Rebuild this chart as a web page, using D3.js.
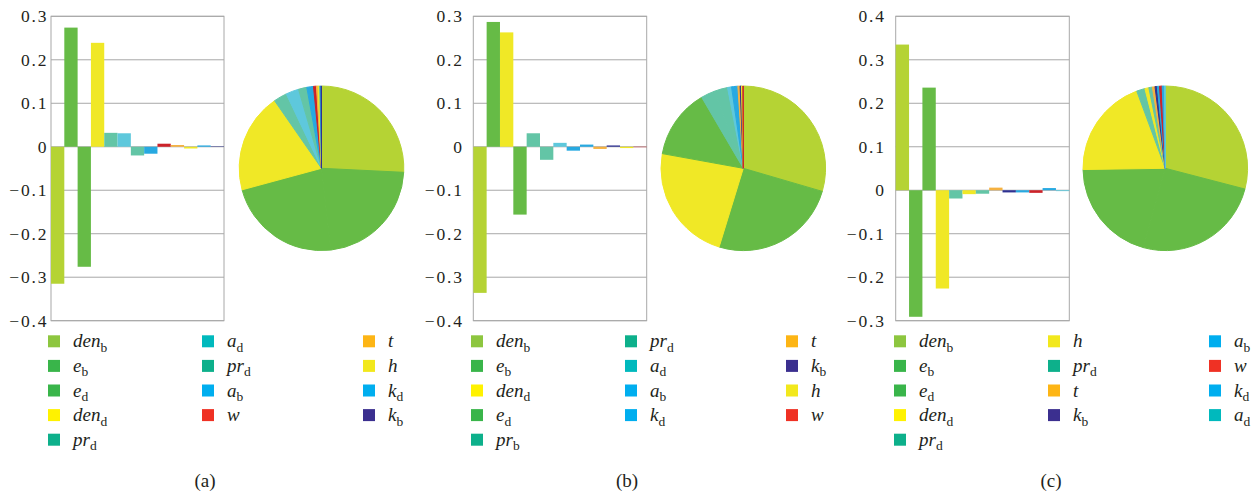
<!DOCTYPE html>
<html>
<head>
<meta charset="utf-8">
<script src="https://cdn.jsdelivr.net/npm/d3@7"></script>
<style>
  body { margin: 0; background: #fff; }
  svg { display: block; }
</style>
</head>
<body>
<svg id="chart" width="1253" height="496"></svg>
<script>
// Variable names: base letters, then the subscript after "_"
const namesA = ["den_b", "e_b", "e_d", "den_d", "pr_d", "a_d", "pr_d", "a_b", "w", "t", "h", "k_d", "k_b"];
const valuesA = [-0.315, 0.274, -0.276, 0.239, 0.032, 0.031, -0.020, -0.016, 0.007, 0.004, -0.004, 0.003, 0.001];

const namesB = ["den_b", "e_b", "den_d", "e_d", "pr_b", "pr_d", "a_d", "a_b", "k_d", "t", "k_b", "h", "w"];
const valuesB = [-0.336, 0.287, 0.263, -0.156, 0.031, -0.030, 0.009, -0.009, 0.005, -0.005, 0.003, -0.003, -0.001];

const namesC = ["den_b", "e_b", "e_d", "den_d", "pr_d", "h", "pr_d", "t", "k_b", "a_b", "w", "k_d", "a_d"];
const valuesC = [0.335, -0.291, 0.236, -0.226, -0.019, -0.009, -0.008, 0.006, -0.005, -0.005, -0.006, 0.005, -0.002];

const ticksA = [-0.4, -0.3, -0.2, -0.1, 0, 0.1, 0.2, 0.3];
const ticksB = [-0.4, -0.3, -0.2, -0.1, 0, 0.1, 0.2, 0.3];
const ticksC = [-0.3, -0.2, -0.1, 0, 0.1, 0.2, 0.3, 0.4];

const captions = ["(a)", "(b)", "(c)"];

// Legend swatch colours and the softer fills used for bars and pie slices
const swatchColors = {
  den_b: "#8dc63f", e_b: "#39b54a", e_d: "#39b54a", den_d: "#fff200", h: "#f2e81c",
  pr_d: "#0db08b", pr_b: "#0db08b", a_d: "#00b9bd", a_b: "#00aeef", k_d: "#00aeef",
  w: "#ef3124", t: "#fdb515", k_b: "#3b2f8f"
};
const markColors = {
  den_b: "#b5d334", e_b: "#66bb46", e_d: "#66bb46", den_d: "#f0e826", h: "#f0e826",
  pr_d: "#63c5a6", pr_b: "#63c5a6", a_d: "#5ec8dc", a_b: "#27a9e1", k_d: "#27a9e1",
  w: "#cc2229", t: "#f5b140", k_b: "#2e3192"
};

const panels = [
  { names: namesA, values: valuesA, ticks: ticksA, plotL: 51, plotR: 224, labelR: 46.5, pieCx: 321.5, legendX: 48, captionX: 205 },
  { names: namesB, values: valuesB, ticks: ticksB, plotL: 473.3, plotR: 646.7, labelR: 462, pieCx: 743.3, legendX: 471, captionX: 627 },
  { names: namesC, values: valuesC, ticks: ticksC, plotL: 895.7, plotR: 1069.3, labelR: 884, pieCx: 1165.3, legendX: 894, captionX: 1051 }
];

const plotTop = 16.3, plotBottom = 320.7;
const pieCy = 168.3, pieR = 82.3;
const legendTop = 341.3, legendStep = 24.6;
const legendCols = [{ count: 5, dx: 0 }, { count: 4, dx: 154 }, { count: 4, dx: 315 }];

const svg = d3.select("#chart");
const fmt = d3.format(".1~f");
const serif = "'Liberation Serif', 'Times New Roman', serif";
const ink = "#231f20";

panels.forEach((p, pi) => {
  const g = svg.append("g");
  const items = p.names.map((n, i) => ({ key: n, v: p.values[i] }));

  const y = d3.scaleLinear()
    .domain(d3.extent(p.ticks))
    .range([plotBottom, plotTop]);
  const x = d3.scaleBand()
    .domain(d3.range(items.length))
    .range([p.plotL, p.plotR])
    .padding(0);

  // gridlines
  g.append("g").selectAll("line").data(p.ticks).join("line")
    .attr("x1", p.plotL).attr("x2", p.plotR)
    .attr("y1", d => y(d)).attr("y2", d => y(d))
    .attr("stroke", "#a8a8a8").attr("stroke-width", 1);

  // plot frame
  g.append("rect")
    .attr("x", p.plotL).attr("y", plotTop)
    .attr("width", p.plotR - p.plotL).attr("height", plotBottom - plotTop)
    .attr("fill", "none").attr("stroke", "#a8a8a8").attr("stroke-width", 1);

  // y axis labels (letter spacing trails the last glyph, so pad by that much less)
  const spacing = 1.8;
  const axis = d3.axisLeft(y)
    .tickValues(p.ticks)
    .tickFormat(d => fmt(d))
    .tickSize(0)
    .tickPadding(p.plotL - p.labelR - spacing);
  const ax = g.append("g").attr("transform", `translate(${p.plotL},0)`).call(axis);
  ax.select(".domain").remove();
  ax.selectAll("text")
    .style("font-family", serif)
    .style("font-size", "17.5px")
    .style("letter-spacing", `${spacing}px`)
    .attr("fill", ink);

  // bars
  g.append("g").selectAll("rect").data(items).join("rect")
    .attr("x", (d, i) => x(i))
    .attr("width", x.bandwidth())
    .attr("y", d => Math.min(y(d.v), y(0)))
    .attr("height", d => Math.abs(y(d.v) - y(0)))
    .attr("fill", d => markColors[d.key]);

  // pie of absolute contributions
  const pie = d3.pie().sort(null).value(d => Math.abs(d.v));
  const arc = d3.arc().innerRadius(0).outerRadius(pieR);
  g.append("g").attr("transform", `translate(${p.pieCx},${pieCy})`)
    .selectAll("path").data(pie(items)).join("path")
    .attr("d", arc)
    .attr("fill", d => markColors[d.data.key])
    .attr("stroke", d => markColors[d.data.key])
    .attr("stroke-width", 1)
    .attr("stroke-linejoin", "round");

  // legend, filled column by column
  const lg = g.append("g");
  let idx = 0;
  legendCols.forEach(col => {
    for (let r = 0; r < col.count; r++, idx++) {
      const key = p.names[idx];
      const cy = legendTop + r * legendStep;
      const sx = p.legendX + col.dx;
      lg.append("rect")
        .attr("x", sx).attr("y", cy - 6)
        .attr("width", 12).attr("height", 12)
        .attr("fill", swatchColors[key]);
      const [base, sub] = key.split("_");
      const t = lg.append("text")
        .attr("x", sx + 25).attr("y", cy + 6)
        .style("font-family", serif)
        .attr("fill", ink);
      t.append("tspan").style("font-style", "italic").style("font-size", "19px").text(base);
      if (sub) {
        t.append("tspan").style("font-size", "13.5px").attr("dy", 4.5).text(sub);
      }
    }
  });

  // panel caption
  g.append("text")
    .attr("x", p.captionX).attr("y", 487)
    .attr("text-anchor", "middle")
    .style("font-family", serif)
    .style("font-size", "19px")
    .attr("fill", ink)
    .text(captions[pi]);
});
</script>
</body>
</html>
